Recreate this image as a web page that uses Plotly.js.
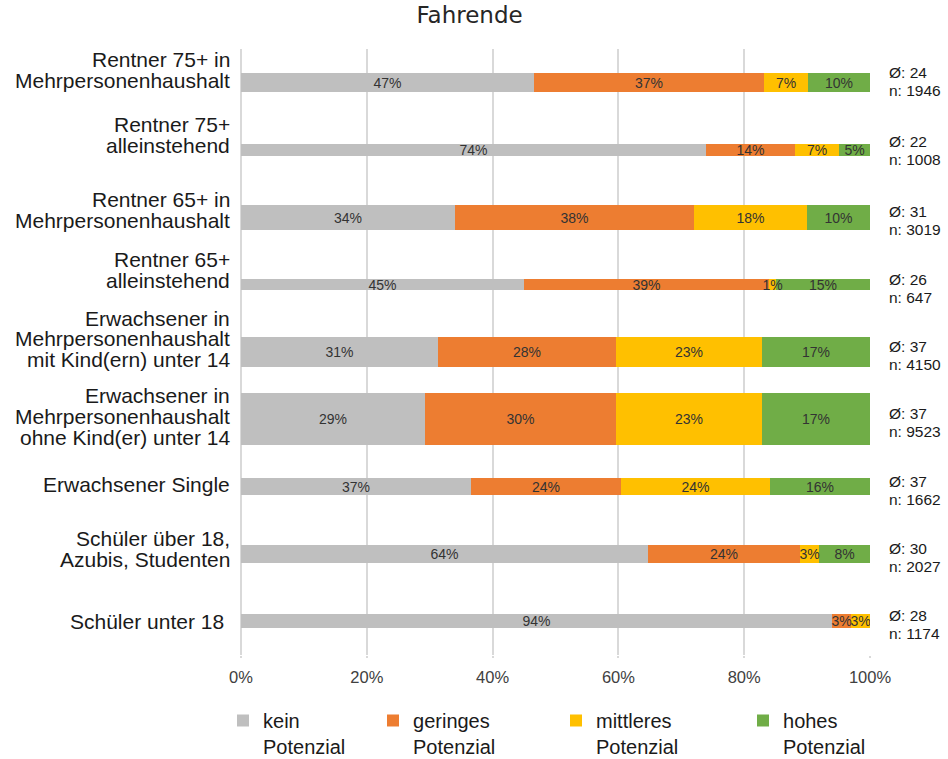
<!DOCTYPE html>
<html>
<head>
<meta charset="utf-8">
<script src="https://cdn.plot.ly/plotly-3.0.1.min.js"></script>
<style>
  html, body { margin: 0; padding: 0; background: #fff; }
  #chart { width: 948px; height: 759px; }
</style>
</head>
<body>
<div id="chart"></div>
<script>
// Target groups (top to bottom)
const categories = [
  'Rentner 75+ in<br>Mehrpersonenhaushalt',
  'Rentner 75+<br>alleinstehend',
  'Rentner 65+ in<br>Mehrpersonenhaushalt',
  'Rentner 65+<br>alleinstehend',
  'Erwachsener in<br>Mehrpersonenhaushalt<br>mit Kind(ern) unter 14',
  'Erwachsener in<br>Mehrpersonenhaushalt<br>ohne Kind(er) unter 14',
  'Erwachsener Single',
  'Schüler über 18,<br>Azubis, Studenten',
  'Schüler unter 18\u00a0'
];

// Share of each potential level, in percent
const kein      = [47, 74, 34, 45, 31, 29, 37, 64, 94];
const geringes  = [37, 14, 38, 39, 28, 30, 24, 24, 3];
const mittleres = [7, 7, 18, 1, 23, 23, 24, 3, 3];
const hohes     = [10, 5, 10, 15, 17, 17, 16, 8, 0];

// Average score and sample size per group
const avgScore = [24, 22, 31, 26, 37, 37, 37, 30, 28];
const sampleN  = [1946, 1008, 3019, 647, 4150, 9523, 1662, 2027, 1174];

const seriesNames = ['kein<br>Potenzial', 'geringes<br>Potenzial', 'mittleres<br>Potenzial', 'hohes<br>Potenzial'];
const tickValues = [0, 20, 40, 60, 80, 100];
const tickLabels = ['0%', '20%', '40%', '60%', '80%', '100%'];

// ---- styling ----
const SANS = 'Liberation Sans, Arial, sans-serif';
const seriesColors = ['#BFBFBF', '#ED7D31', '#FFC000', '#70AD47'];
// bar thickness per row (in row units)
const barThickness = [0.273, 0.189, 0.371, 0.163, 0.456, 0.768, 0.248, 0.278, 0.204];
// baseline of the last label line relative to the row centre (px, downwards)
const labelBaseline = [5.2, 2.5, 10.2, 3.3, 15, 25.3, 5.3, 12.3, 7.3];
// baseline of the "Ø" line relative to the row centre (px, downwards)
const statsBaseline = [-5, -3, -0.5, 0, -0.5, 0, 0, -0.5, 0];
const legendX = [-0.0286, 0.2099, 0.5008, 0.7981];

const LABEL_FS = 21, LABEL_LINE = 20.8;
const STATS_FS = 15.5, STATS_LINE = 18;
const MID = 0.3465; // baseline offset from box centre, in em

const rowPos = categories.map((_, i) => i);
const seriesValues = [kein, geringes, mittleres, hohes];

const traces = seriesValues.map((vals, s) => ({
  type: 'bar',
  orientation: 'h',
  name: seriesNames[s],
  x: vals,
  y: rowPos,
  width: barThickness,
  marker: { color: seriesColors[s], line: { width: 0 } },
  text: vals.map(v => (v > 0 ? v + '%' : '')),
  textposition: 'inside',
  insidetextanchor: 'middle',
  textangle: 0,
  constraintext: 'none',
  insidetextfont: { family: SANS, size: 14, color: '#333333' },
  hovertemplate: '%{text}<extra></extra>',
  showlegend: true,
  legend: s === 0 ? 'legend' : 'legend' + (s + 1)
}));

const annotations = [];
categories.forEach((cat, i) => {
  const lines = cat.split('<br>');
  lines.forEach((line, k) => {
    const base = labelBaseline[i] - (lines.length - 1 - k) * LABEL_LINE;
    annotations.push({
      xref: 'paper', yref: 'y', x: 0, y: i,
      xanchor: 'right', yanchor: 'middle',
      xshift: -9.5, yshift: -(base - MID * LABEL_FS),
      text: line, showarrow: false,
      font: { family: SANS, size: LABEL_FS, color: '#1a1a1a' }
    });
  });
  const statLines = ['Ø: ' + avgScore[i], 'n: ' + sampleN[i]];
  statLines.forEach((line, k) => {
    const base = statsBaseline[i] + k * STATS_LINE;
    annotations.push({
      xref: 'paper', yref: 'y', x: 1, y: i,
      xanchor: 'left', yanchor: 'middle',
      xshift: 17, yshift: -(base - MID * STATS_FS),
      text: line, showarrow: false,
      font: { family: SANS, size: STATS_FS, color: '#1a1a1a' }
    });
  });
});

const legendBase = {
  y: -0.0759, yanchor: 'top', xanchor: 'left',
  valign: 'top', bgcolor: 'rgba(0,0,0,0)', borderwidth: 0,
  font: { family: SANS, size: 20, color: '#1a1a1a' }
};

const layout = {
  width: 948,
  height: 759,
  paper_bgcolor: '#ffffff',
  plot_bgcolor: '#ffffff',
  margin: { l: 241, r: 78, t: 49, b: 104, autoexpand: false },
  showlegend: true,
  title: {
    text: 'Fahrende',
    font: { family: 'DejaVu Sans, sans-serif', size: 23, color: '#262626' },
    xref: 'container', x: 0.4953, xanchor: 'center',
    yref: 'container', y: 0.9807, yanchor: 'middle'
  },
  barmode: 'stack',
  barnorm: 'percent',
  bargap: 0,
  xaxis: {
    range: [0, 100],
    tickvals: tickValues,
    ticktext: tickLabels,
    tickfont: { family: SANS, size: 16.5, color: '#404040' },
    showgrid: true, gridcolor: '#d9d9d9', gridwidth: 2,
    zeroline: true, zerolinecolor: '#d9d9d9', zerolinewidth: 2,
    ticks: 'outside', ticklen: 2, tickcolor: '#d9d9d9', tickwidth: 2,
    ticklabelstandoff: 5,
    showline: false, fixedrange: true
  },
  yaxis: {
    range: [categories.length - 0.5, -0.5],
    showgrid: false, zeroline: false, showticklabels: false,
    showline: false, fixedrange: true
  },
  legend:  Object.assign({ x: legendX[0] }, legendBase),
  legend2: Object.assign({ x: legendX[1] }, legendBase),
  legend3: Object.assign({ x: legendX[2] }, legendBase),
  legend4: Object.assign({ x: legendX[3] }, legendBase),
  annotations: annotations
};

Plotly.newPlot('chart', traces, layout, { displayModeBar: false }).then(gd => {
  // keep the segment labels above every bar, so narrow segments stay readable
  const layer = gd.querySelector('.barlayer');
  if (!layer) return;
  const top = document.createElementNS('http://www.w3.org/2000/svg', 'g');
  top.setAttribute('class', 'segment-labels');
  layer.querySelectorAll('text.bartext').forEach(t => top.appendChild(t));
  layer.appendChild(top);
});
</script>
</body>
</html>
